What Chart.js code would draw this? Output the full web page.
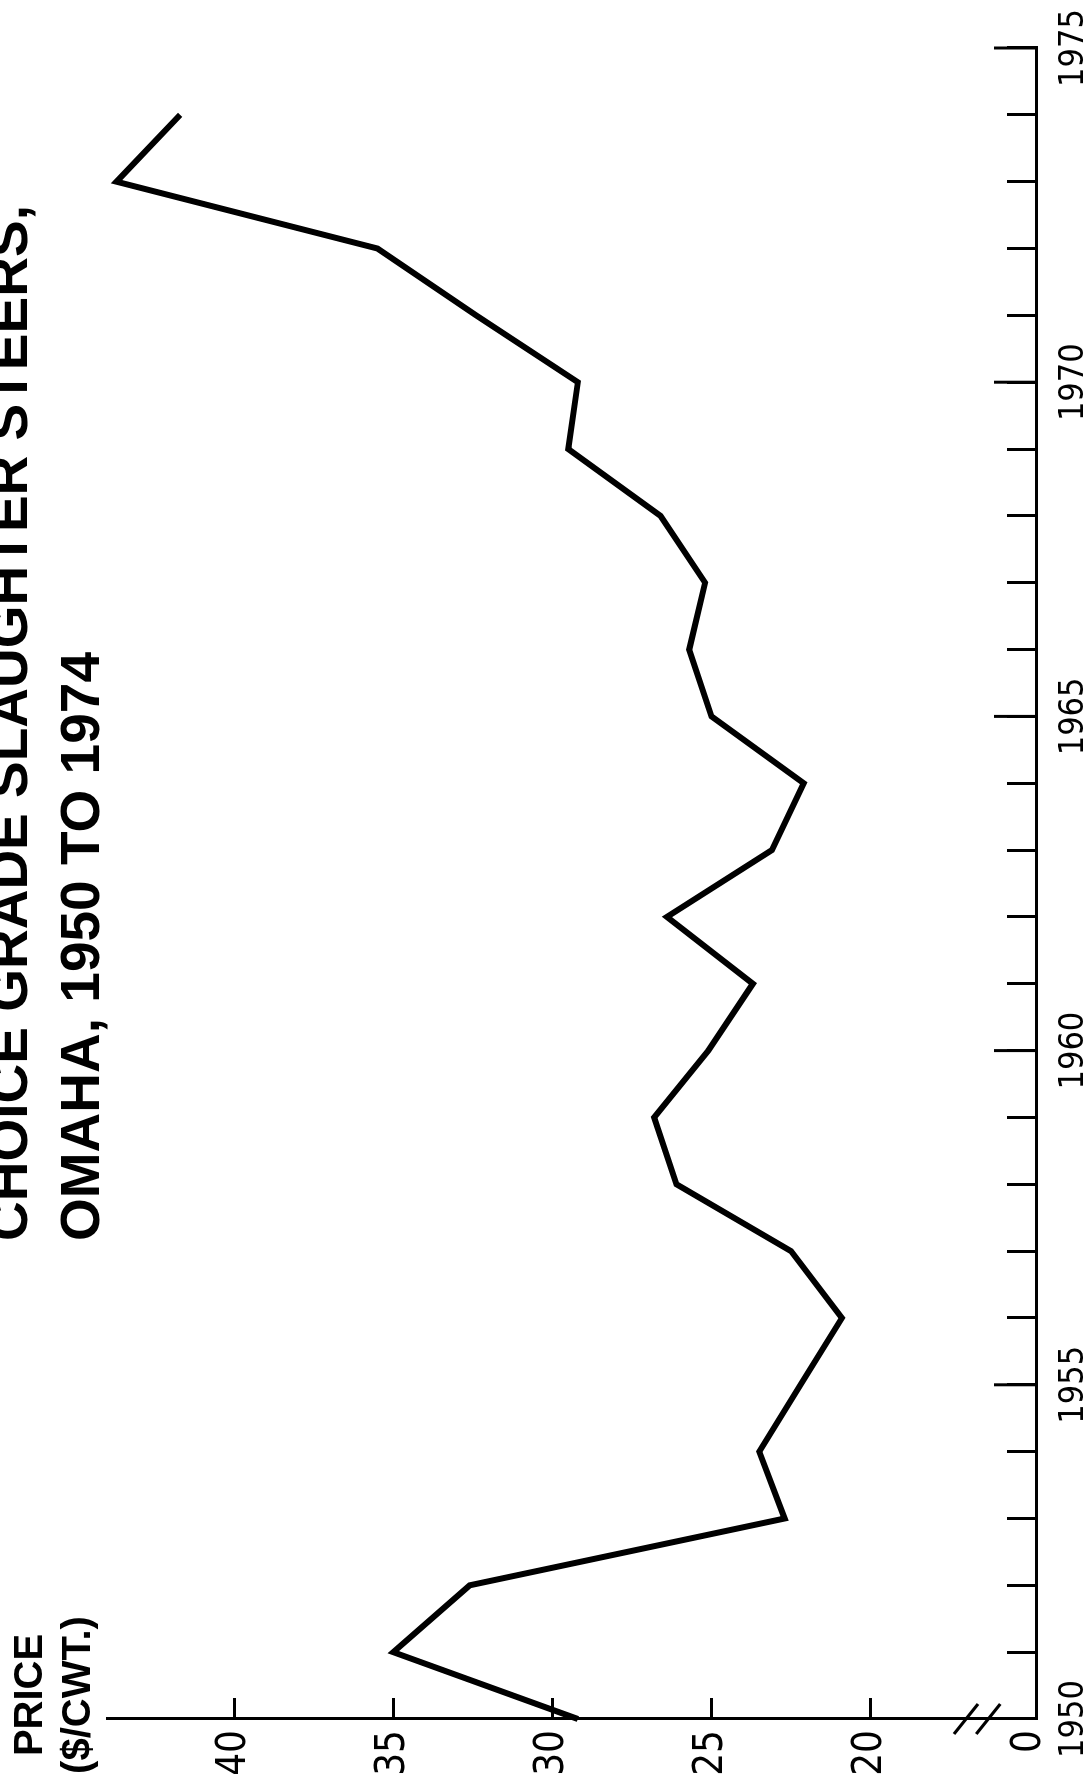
<!DOCTYPE html>
<html>
<head>
<meta charset="utf-8">
<title>Choice grade slaughter steers, Omaha, 1950 to 1974</title>
<script src="https://cdn.jsdelivr.net/npm/chart.js@4.4.1/dist/chart.umd.min.js"></script>
<style>
  html, body { margin: 0; padding: 0; background: #fff; overflow: hidden; }
  body { width: 1092px; height: 1785px; position: relative; }
  /* the whole figure is printed sideways, so build it flat and turn it */
  #sheet { position: absolute; left: 0; top: 1785px; width: 1785px; height: 1092px;
           transform: rotate(-90deg); transform-origin: 0 0; }
  #chart { position: absolute; left: 0; top: 0; }
  .title { position: absolute; left: 544px; top: -28px; white-space: nowrap; color: #000;
           font: bold 55px/72px 'Liberation Sans', Arial, sans-serif; }
  .unit { position: absolute; left: 0; top: 4px; width: 180px; text-align: center; color: #000;
          font: bold 40px/48px 'Liberation Sans', Arial, sans-serif; }
</style>
</head>
<body>
<div id="sheet">
  <canvas id="chart" width="1785" height="1092" style="width:1785px;height:1092px"></canvas>
  <div class="title">CHOICE GRADE SLAUGHTER STEERS,<br>OMAHA, 1950 TO 1974</div>
  <div class="unit">PRICE<br>($/CWT.)</div>
</div>
<script>
// yearly price, $/cwt
const years = [1950, 1951, 1952, 1953, 1954, 1955, 1956, 1957, 1958, 1959, 1960, 1961, 1962,
               1963, 1964, 1965, 1966, 1967, 1968, 1969, 1970, 1971, 1972, 1973, 1974];
const prices = [29.2, 35.0, 32.6, 22.7, 23.5, 22.2, 20.9, 22.5, 26.1, 26.8, 25.1, 23.7, 26.4,
                23.1, 22.1, 25.0, 25.7, 25.2, 26.6, 29.5, 29.2, 32.4, 35.5, 43.7, 41.7];

const yearTickLabels = [1950, 1955, 1960, 1965, 1970, 1975];
// axis is broken below 20, the bottom tick stands for zero
const priceTickValues = [15, 20, 25, 30, 35, 40];
const priceTickLabels = ['0', '20', '25', '30', '35', '40'];
const breakMarks = [16.3, 17.0];

const narrow = "'Liberation Sans Narrow', 'DejaVu Sans Condensed', sans-serif";

// longer ticks every five years + the // on the price axis
const axisExtras = {
  id: 'axisExtras',
  afterDraw(chart) {
    const { ctx } = chart;
    const x = chart.scales.x, y = chart.scales.y;
    ctx.save();
    ctx.strokeStyle = '#000';
    ctx.lineWidth = 3;
    yearTickLabels.forEach(yr => {
      if (yr === 1950) return;
      const px = x.getPixelForValue(yr);
      ctx.beginPath();
      ctx.moveTo(px, x.top);
      ctx.lineTo(px, x.top - 42);
      ctx.stroke();
    });
    breakMarks.forEach(v => {
      const py = y.getPixelForValue(v);
      ctx.beginPath();
      ctx.moveTo(y.right - 15, py - 12);
      ctx.lineTo(y.right + 15, py + 12);
      ctx.stroke();
    });
    ctx.restore();
  }
};

const ctx = document.getElementById('chart').getContext('2d');
const myChart = new Chart(ctx, {
  type: 'line',
  data: {
    datasets: [{
      data: years.map((yr, i) => ({ x: yr, y: prices[i] })),
      borderColor: '#000',
      borderWidth: 6,
      borderJoinStyle: 'miter',
      pointRadius: 0,
      tension: 0,
      fill: false,
      clip: false
    }]
  },
  options: {
    responsive: false,
    animation: false,
    devicePixelRatio: 1,
    layout: { padding: { top: 107, right: 48, left: 0, bottom: 0 } },
    plugins: { legend: { display: false }, tooltip: { enabled: false } },
    scales: {
      x: {
        type: 'linear',
        min: 1950,
        max: 1975,
        afterFit: (scale) => {
          scale.height = 56;
          scale.paddingLeft = 0;
          scale.paddingRight = 0;
        },
        border: { display: true, color: '#000', width: 3 },
        grid: {
          drawOnChartArea: false,
          tickLength: -29,
          tickWidth: 3,
          tickColor: (c) => (c.tick && c.tick.value === 1950) ? 'rgba(0,0,0,0)' : '#000'
        },
        ticks: {
          stepSize: 1,
          autoSkip: false,
          maxRotation: 0,
          padding: 47,
          color: '#000',
          font: { family: narrow, size: 34 },
          callback: (v) => yearTickLabels.includes(v) ? String(v) : ''
        }
      },
      y: {
        type: 'linear',
        min: 14.8,
        max: 44,
        afterFit: (scale) => {
          scale.width = 66;
          scale.paddingTop = 0;
          scale.paddingBottom = 0;
        },
        afterBuildTicks: (scale) => { scale.ticks = priceTickValues.map(v => ({ value: v })); },
        border: { display: true, color: '#000', width: 3 },
        grid: {
          drawOnChartArea: false,
          tickLength: -21,
          tickWidth: 3,
          tickColor: (c) => (c.tick && c.tick.value === 15) ? 'rgba(0,0,0,0)' : '#000'
        },
        ticks: {
          padding: 32,
          color: '#000',
          font: { family: narrow, size: 40 },
          callback: (v) => priceTickLabels[priceTickValues.indexOf(v)]
        }
      }
    }
  },
  plugins: [axisExtras]
});
</script>
</body>
</html>
